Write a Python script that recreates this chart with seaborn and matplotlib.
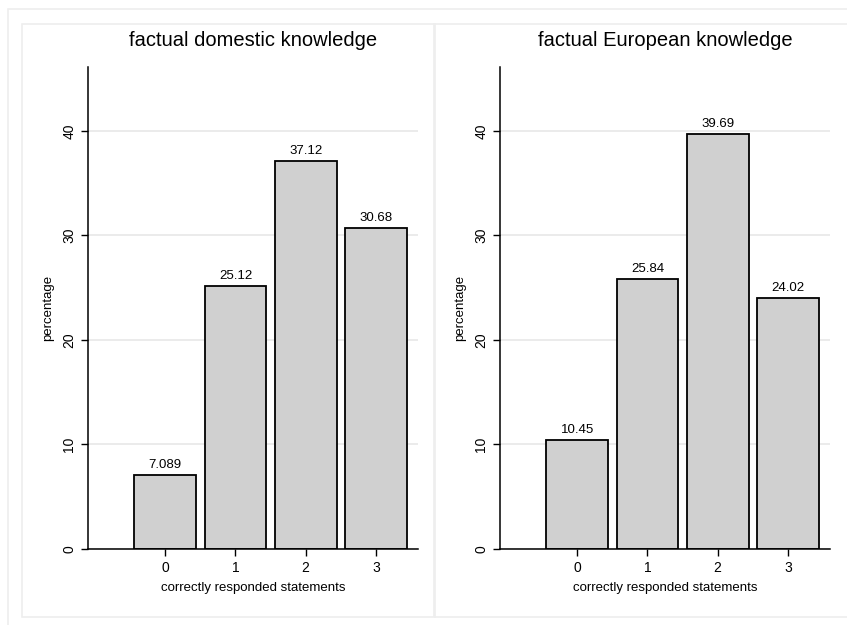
import matplotlib
matplotlib.use("Agg")
import matplotlib.pyplot as plt
import seaborn as sns
import pandas as pd
from matplotlib.patches import Rectangle

categories = [0, 1, 2, 3]
domestic = [7.089, 25.12, 37.12, 30.68]
european = [10.45, 25.84, 39.69, 24.02]
titles = ["factual domestic knowledge", "factual European knowledge"]

sns.set_style("white")
plt.rcParams["font.family"] = ["Liberation Sans", "DejaVu Sans"]
plt.rcParams["text.color"] = "black"
plt.rcParams["axes.labelcolor"] = "black"

fig = plt.figure(figsize=(8.47, 6.25), dpi=100)
W, H = 847, 625

def px_rect(x0, y0, x1, y1, color):
    fig.patches.append(Rectangle((x0 / W, 1 - y1 / H), (x1 - x0) / W, (y1 - y0) / H,
                                 transform=fig.transFigure, fill=False,
                                 edgecolor=color, linewidth=1.2, zorder=0))

# outer frame and the two panel frames (right/bottom run off the picture)
px_rect(8, 9, 852, 632, "#eeeeee")
px_rect(22, 24, 435, 617, "#eeeeee")
px_rect(434, 24, 852, 617, "#eeeeee")

lefts = [88, 500]
for left, vals, title in zip(lefts, [domestic, european], titles):
    ax = fig.add_axes([left / W, 1 - 549 / H, 330 / W, (549 - 67) / H])
    df = pd.DataFrame({"x": categories, "pct": vals})
    sns.barplot(data=df, x="x", y="pct", color="#d0d0d0", saturation=1,
                width=0.88, edgecolor="black", linewidth=1.3, ax=ax, zorder=2)
    ax.bar_label(ax.containers[0], fmt="%.4g", padding=3, fontsize=9.5, color="black")
    ax.set_xlim(-1.1, 3.6)
    ax.set_ylim(0, 46.1)
    ax.set_yticks([0, 10, 20, 30, 40])
    ax.yaxis.grid(True, color="#e8e8e8", linewidth=1.2, zorder=0)
    ax.set_axisbelow(True)
    for s in ["top", "right"]:
        ax.spines[s].set_visible(False)
    for s in ["left", "bottom"]:
        ax.spines[s].set_color("black")
        ax.spines[s].set_linewidth(1.1)
    ax.tick_params(axis="both", direction="out", length=5, width=1, colors="black",
                   labelsize=10, left=True, bottom=True)
    for lbl in ax.get_yticklabels():
        lbl.set_rotation(90)
        lbl.set_va("center")
    ax.set_ylabel("percentage", fontsize=9.5, labelpad=6)
    ax.set_xlabel("correctly responded statements", fontsize=9.5, labelpad=5)
    ax.set_title(title, fontsize=14.5, pad=15, color="black")

fig.savefig("out.png", dpi=100, facecolor="white")
